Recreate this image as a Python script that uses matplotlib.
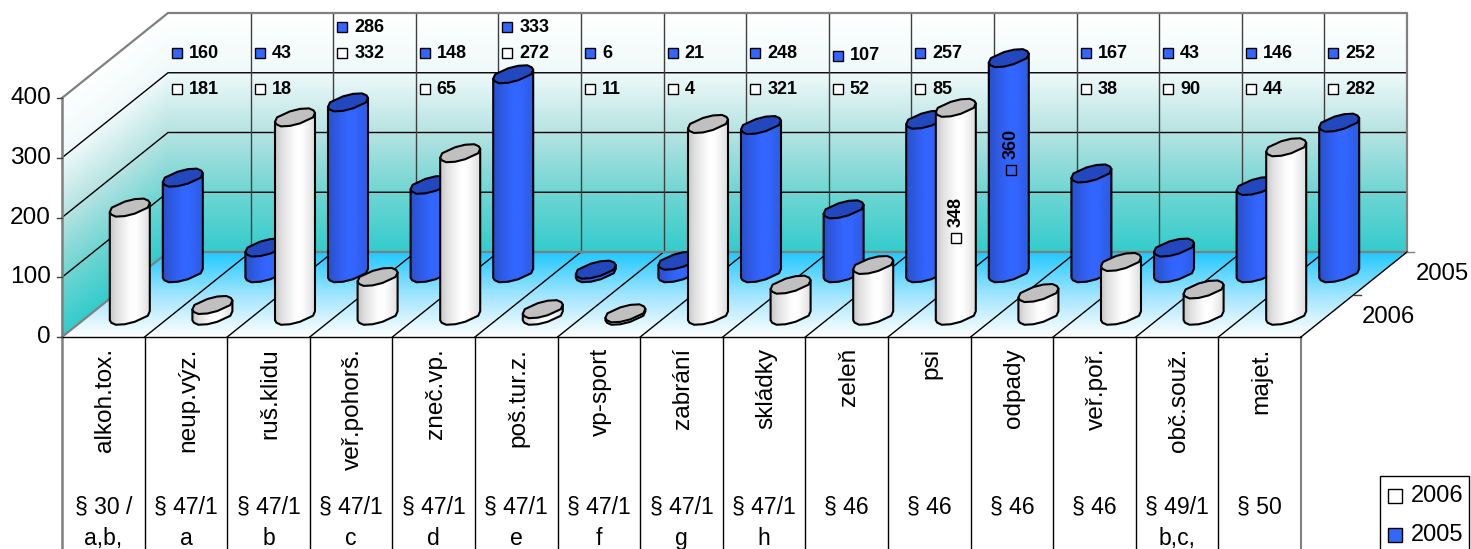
"""
Pseudo 3D cylinder chart, drawn in a pixel sized axes.
"""

import matplotlib
matplotlib.use("Agg")
import matplotlib.pyplot as plt
import numpy as np
from matplotlib.colors import LinearSegmentedColormap
from matplotlib.patches import Polygon, Rectangle

plt.rcParams['font.family'] = ['Liberation Sans', 'DejaVu Sans']

categories = ["alkoh.tox.", "neup.výz.", "ruš.klidu", "veř.pohorš.", "zneč.vp.",
              "poš.tur.z.", "vp-sport", "zabrání", "skládky", "zeleň",
              "psi", "odpady", "veř.poř.", "obč.souž.", "majet."]
sections = ["§ 30 /", "§ 47/1", "§ 47/1", "§ 47/1", "§ 47/1",
            "§ 47/1", "§ 47/1", "§ 47/1", "§ 47/1", "§ 46",
            "§ 46", "§ 46", "§ 46", "§ 49/1", "§ 50"]
subsections = ["a,b,", "a", "b", "c", "d", "e", "f", "g", "h",
               "", "", "", "", "b,c,", ""]
values_2005 = [160, 43, 286, 148, 333, 6, 21, 248, 107, 257, 360, 167, 43, 146, 252]
values_2006 = [181, 18, 332, 65, 272, 11, 4, 321, 52, 85, 348, 38, 90, 44, 282]
value_ticks = [0, 100, 200, 300, 400]
series_names = ["2006", "2005"]

# geometry of the fake 3D box, in pixels
X0, Y0 = 62, 337
CAT_W = 82.6
DEPTH_X, DEPTH_Y = 106, 85
PX_PER_UNIT = 0.5975
DEPTH_2006, DEPTH_2005 = 0.25, 0.75
N = len(categories)

# outline of a cylinder end, left corner first, right corner at index 6
END_SHAPE = np.array([(-20, 4.5), (-18.5, 7), (-14, 9), (-5, 8.5), (5, 6), (18, 0),
                      (20, -4.5), (18.5, -7), (14, -9), (5, -8.5), (-5, -6), (-18, 0)],
                     dtype=float)

BLUE = "#3366ff"
TEAL = "#33cccc"
GRAY = "#808080"


def to_px(cat, depth, value=0):
    return (X0 + CAT_W * cat + DEPTH_X * depth,
            Y0 - DEPTH_Y * depth - PX_PER_UNIT * value)


def gradient_quad(ax, corners, colors, zorder=1):
    """Shade a quad top to bottom, corners are tl, tr, bl, br"""
    cmap = LinearSegmentedColormap.from_list("g", colors)
    steps = np.linspace(0, 1, 60)
    (tlx, tly), (trx, try_), (blx, bly), (brx, bry) = corners
    xs = np.array([[tlx + (blx - tlx) * s, trx + (brx - trx) * s] for s in steps])
    ys = np.array([[tly + (bly - tly) * s, try_ + (bry - try_) * s] for s in steps])
    cs = np.array([[s, s] for s in steps])
    ax.pcolormesh(xs, ys, cs, cmap=cmap, shading="gouraud", zorder=zorder,
                  vmin=0, vmax=1)


def draw_box(ax):
    wall = ["#ffffff", "#eff9f9", "#b5e3e2", "#70d5d2", TEAL]
    # back wall
    gradient_quad(ax, [to_px(0, 1, 400), to_px(N, 1, 400), to_px(0, 1), to_px(N, 1)], wall)
    # side wall
    gradient_quad(ax, [to_px(0, 0, 400), to_px(0, 1, 400), to_px(0, 0), to_px(0, 1)], wall)
    # floor
    gradient_quad(ax, [to_px(0, 1), to_px(N, 1), to_px(0, 0), to_px(N, 0)],
                  ["#1fc8ff", "#9fe4ff", "#ffffff"])

    for tick in value_ticks[1:-1]:
        x, y = zip(to_px(0, 0, tick), to_px(0, 1, tick), to_px(N, 1, tick))
        ax.plot(x, y, color="black", lw=1, zorder=2)
    for i in range(1, N):
        x, y = zip(to_px(i, 1, 0), to_px(i, 1, 400))
        ax.plot(x, y, color="#404040", lw=1, zorder=2)
        x, y = zip(to_px(i, 0), to_px(i, 1))
        ax.plot(x, y, color="black", lw=1, zorder=2)
        ax.plot([to_px(i, 0)[0]] * 2, [Y0, 549], color="black", lw=1, zorder=2)

    # outer frame is gray
    x, y = zip(to_px(0, 0, 400), to_px(0, 1, 400), to_px(N, 1, 400), to_px(N, 1, 0))
    ax.plot(x, y, color=GRAY, lw=1.6, zorder=3)
    x, y = zip(to_px(0, 0), to_px(0, 1), to_px(N, 1))
    ax.plot(x, y, color=GRAY, lw=1.6, zorder=3)
    ax.plot([X0, X0], [to_px(0, 0, 400)[1], 549], color=GRAY, lw=1.8, zorder=3)
    ax.plot([to_px(N, 0)[0]] * 2, [Y0, 549], color=GRAY, lw=1.5, zorder=3)
    ax.plot([X0, to_px(N, 0)[0]], [Y0, Y0], color="black", lw=1, zorder=3)
    x, y = zip(to_px(N, 0), to_px(N, 1))
    ax.plot(x, y, color="black", lw=1, zorder=3)

    # value axis
    for tick in value_ticks:
        x, y = to_px(0, 0, tick)
        ax.plot([x - 5, x], [y, y], color="#404040", lw=1, zorder=3)
        ax.text(x - 11, y, str(tick), ha="right", va="center", fontsize=17.6)

    # depth axis
    x, y = to_px(N, 1)
    ax.plot([x, x + 7], [y, y], color=GRAY, lw=1, zorder=3)
    x, y = to_px(N, 0.5)
    ax.plot([x, x + 7], [y, y], color="#404040", lw=1, zorder=3)
    x, y = to_px(N, DEPTH_2005)
    ax.text(x + 35, y + 1, "2005", ha="left", va="center", fontsize=17.2)
    x, y = to_px(N, DEPTH_2006)
    ax.text(x + 34, y + 1, "2006", ha="left", va="center", fontsize=17.2)


def draw_cylinder(ax, cat, depth, value, body_colors, top_color, zorder):
    cx, cy = to_px(cat, depth)
    base = END_SHAPE + [cx, cy]
    top = base - [0, PX_PER_UNIT * value]

    # lower side of the base, then up to the two corners of the top
    outline = np.vstack((base[:7], top[[6, 0]]))

    body = Polygon(outline, closed=True, facecolor="none", edgecolor="black",
                   lw=1.5, zorder=zorder + 0.1, joinstyle="round")
    ax.add_patch(body)
    cmap = LinearSegmentedColormap.from_list("b", body_colors)
    img = ax.imshow(np.linspace(0, 1, 64).reshape(1, -1), cmap=cmap, aspect="auto",
                    extent=(cx - 20, cx + 20, outline[:, 1].max(), outline[:, 1].min()),
                    interpolation="bilinear", zorder=zorder)
    img.set_clip_path(body)
    ax.add_patch(Polygon(top, closed=True, facecolor=top_color, edgecolor="black",
                         lw=1.5, zorder=zorder + 0.2, joinstyle="round"))


def draw_marker_label(ax, x, y, text, face, rotated=False):
    ax.plot([x], [y], marker="s", ms=7.8, mfc=face, mec="black", mew=1, zorder=10)
    if rotated:
        ax.text(x, y - 11, text, rotation=90, ha="center", va="bottom", fontsize=13,
                fontweight="bold", zorder=10)
    else:
        ax.text(x + 12, y, text, ha="left", va="center", fontsize=13,
                fontweight="bold", zorder=10)


def draw_data_labels(ax):
    # rows where the labels sit, the tall bars push theirs up or rotate them
    rows_2005 = {2: 27, 4: 27}
    rows_2006 = {2: 53, 4: 53}
    for i in range(N):
        x = 177 + CAT_W * i
        if i == 10:
            draw_marker_label(ax, 1011, 170, str(values_2005[i]), BLUE, rotated=True)
            draw_marker_label(ax, 956, 238, str(values_2006[i]), "white", rotated=True)
            continue
        y_blue = rows_2005.get(i, 53)
        if i == 8:
            y_blue = 56
        draw_marker_label(ax, x, y_blue, str(values_2005[i]), BLUE)
        draw_marker_label(ax, x, rows_2006.get(i, 89), str(values_2006[i]), "white")


def draw_category_table(ax):
    for i in range(N):
        x = X0 + CAT_W * (i + 0.5)
        ax.text(x + 2, 348, categories[i], rotation=90, ha="center", va="top", fontsize=17.6)
        ax.text(x, 513, sections[i], ha="center", va="baseline", fontsize=16.6)
        if subsections[i]:
            ax.text(x, 545, subsections[i], ha="center", va="baseline", fontsize=16.6)


def draw_legend(ax):
    ax.add_patch(Rectangle((1380.5, 475.5), 89, 90, facecolor="white", edgecolor="black",
                           lw=1, zorder=4))
    for y, name, face in ((496, series_names[0], "white"), (535, series_names[1], BLUE)):
        ax.plot([1395.5], [y], marker="s", ms=10, mfc=face, mec="black", mew=1, zorder=5)
        ax.text(1411, y, name, ha="left", va="center", fontsize=17, zorder=5)


def main():
    fig = plt.figure(figsize=(14.71, 5.49), dpi=100)
    ax = fig.add_axes([0, 0, 1, 1])
    ax.set_axis_off()

    draw_box(ax)

    white_body = ["#c8c8c8", "#e0e0e0", "#eeeeee", "#fdfdfd", "#ffffff", "#f0f0f0", "#dedede"]
    blue_body = ["#2a50cc", "#2d58dc", "#3060f0", "#3366ff", "#3366ff", "#3060f0", "#2d5ce6"]
    for i in range(N):
        draw_cylinder(ax, i + 0.5, DEPTH_2005, values_2005[i], blue_body, "#2348bd", 5)
    for i in range(N):
        draw_cylinder(ax, i + 0.5, DEPTH_2006, values_2006[i], white_body, "#c0c0c0", 6)

    draw_data_labels(ax)
    draw_category_table(ax)
    draw_legend(ax)

    ax.set_xlim(0, 1471)
    ax.set_ylim(549, 0)
    fig.savefig("out.png", dpi=100)


if __name__ == "__main__":
    main()
